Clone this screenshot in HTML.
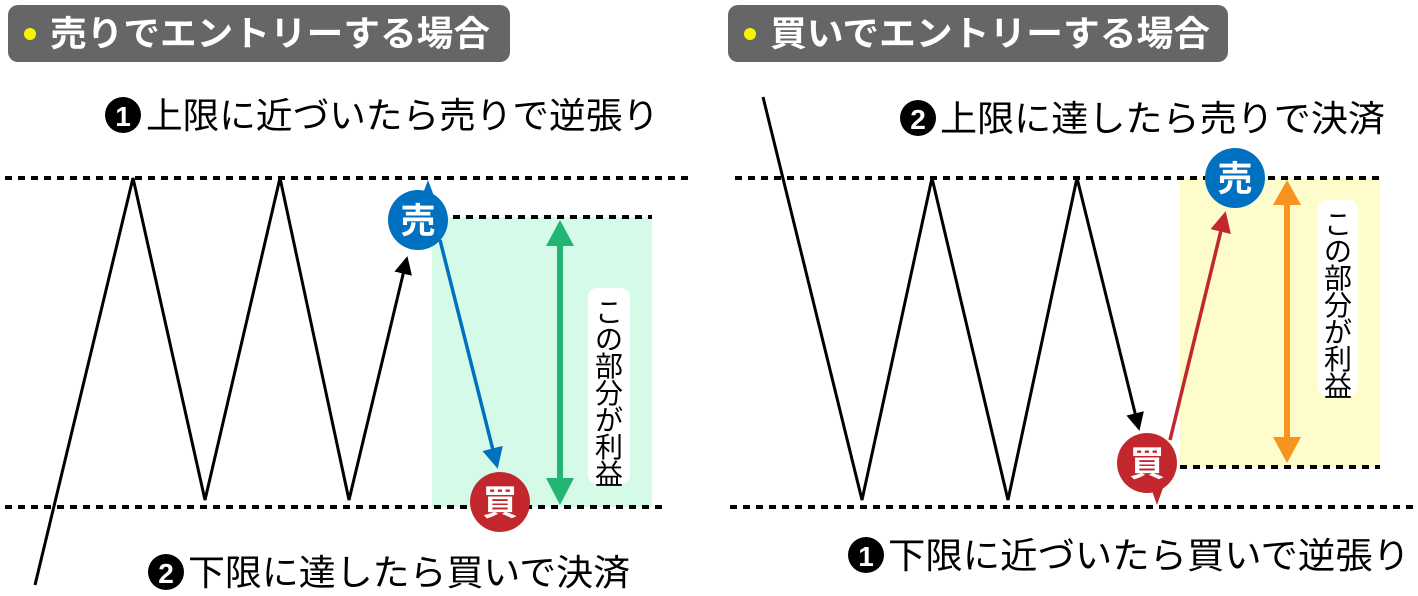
<!DOCTYPE html>
<html><head><meta charset="utf-8"><style>
body{margin:0;background:#fff;width:1418px;height:591px;overflow:hidden}
svg text{font-family:"Liberation Sans","Noto Sans CJK JP",sans-serif}
</style></head><body>
<svg width="1418" height="591" viewBox="0 0 1418 591" xmlns="http://www.w3.org/2000/svg">
<defs>
<marker id="ak" markerWidth="6" markerHeight="6" refX="4" refY="3" orient="auto" markerUnits="strokeWidth"><path d="M0,0L6,3L0,6z" fill="#000"/></marker>
<marker id="ab" markerWidth="6" markerHeight="6" refX="4" refY="3" orient="auto" markerUnits="strokeWidth"><path d="M0,0L6,3L0,6z" fill="#0070c0"/></marker>
<marker id="ar" markerWidth="6" markerHeight="6" refX="4" refY="3" orient="auto" markerUnits="strokeWidth"><path d="M0,0L6,3L0,6z" fill="#c1272d"/></marker>
</defs>
<rect x="8" y="5" width="502" height="57" rx="10" fill="#666"/>
<circle cx="30" cy="34" r="6" fill="#f5f500"/>
<text x="50" y="46" font-size="35" font-weight="bold" fill="#fff" textLength="440" lengthAdjust="spacingAndGlyphs">売りでエントリーする場合</text>
<rect x="728" y="5" width="500" height="57" rx="10" fill="#666"/>
<circle cx="750" cy="34" r="6" fill="#f5f500"/>
<text x="770" y="46" font-size="35" font-weight="bold" fill="#fff" textLength="440" lengthAdjust="spacingAndGlyphs">買いでエントリーする場合</text>

<rect x="432" y="217" width="220" height="290" fill="#d5fbe8"/>
<g stroke="#000" stroke-width="4" stroke-dasharray="7 6">
<line x1="5" y1="178" x2="690" y2="178"/>
<line x1="5" y1="507" x2="665" y2="507"/>
<line x1="440" y1="217" x2="652" y2="217"/>
<line x1="730" y1="507" x2="1418" y2="507"/>
</g>
<polyline points="35,585 133,178 205,500 280,178 349,500 406,262" fill="none" stroke="#000" stroke-width="3" marker-end="url(#ak)"/>
<line x1="440" y1="240" x2="496" y2="462" stroke="#0070c0" stroke-width="3.5" marker-end="url(#ab)"/>
<line x1="560" y1="240" x2="560" y2="485" stroke="#22b573" stroke-width="6"/>
<path d="M560,220L574,246L546,246z M560,505L574,478L546,478z" fill="#22b573"/>
<rect x="588" y="288" width="42" height="196" rx="9" fill="#fff"/>
<text x="609" y="322" font-size="28" fill="#000" text-anchor="middle"><tspan x="609" dy="0">こ</tspan><tspan x="609" dy="27">の</tspan><tspan x="609" dy="27">部</tspan><tspan x="609" dy="27">分</tspan><tspan x="609" dy="27">が</tspan><tspan x="609" dy="27">利</tspan><tspan x="609" dy="27">益</tspan></text>
<path d="M428,180L422,196L434,196z" fill="#0070c0"/>
<circle cx="418" cy="220" r="30" fill="#0070c0"/>
<text x="418" y="233" font-size="35" font-weight="bold" fill="#fff" text-anchor="middle">売</text>
<circle cx="500" cy="502" r="30" fill="#c1272d"/>
<text x="500" y="515" font-size="35" font-weight="bold" fill="#fff" text-anchor="middle">買</text>
<circle cx="123" cy="115" r="18" fill="#000"/><text x="123" y="126" font-size="28" font-weight="bold" fill="#fff" text-anchor="middle">1</text>
<text x="146" y="128" font-size="36" fill="#000" textLength="513" lengthAdjust="spacingAndGlyphs">上限に近づいたら売りで逆張り</text>
<circle cx="166" cy="572" r="18" fill="#000"/><text x="166" y="583" font-size="28" font-weight="bold" fill="#fff" text-anchor="middle">2</text>
<text x="188" y="585" font-size="36" fill="#000" textLength="442" lengthAdjust="spacingAndGlyphs">下限に達したら買いで決済</text>

<rect x="1180" y="178" width="200" height="289" fill="#fffccc"/>
<g stroke="#000" stroke-width="4" stroke-dasharray="7 6">
<line x1="735" y1="178" x2="1380" y2="178"/>
<line x1="1180" y1="467" x2="1380" y2="467"/>
</g>
<polyline points="763,97 862,500 932,178 1008,500 1077,178 1138,425" fill="none" stroke="#000" stroke-width="3" marker-end="url(#ak)"/>
<line x1="1170" y1="440" x2="1224" y2="218" stroke="#c1272d" stroke-width="3.5" marker-end="url(#ar)"/>
<line x1="1287" y1="200" x2="1287" y2="445" stroke="#f7931e" stroke-width="6"/>
<path d="M1287,180L1301,205L1273,205z M1287,463L1301,437L1273,437z" fill="#f7931e"/>
<rect x="1318" y="200" width="40" height="196" rx="9" fill="#fff"/>
<text x="1338" y="234" font-size="28" fill="#000" text-anchor="middle"><tspan x="1338" dy="0">こ</tspan><tspan x="1338" dy="27">の</tspan><tspan x="1338" dy="27">部</tspan><tspan x="1338" dy="27">分</tspan><tspan x="1338" dy="27">が</tspan><tspan x="1338" dy="27">利</tspan><tspan x="1338" dy="27">益</tspan></text>
<path d="M1157,505L1151,488L1163,488z" fill="#c1272d"/>
<circle cx="1147" cy="463" r="30" fill="#c1272d"/>
<text x="1147" y="476" font-size="35" font-weight="bold" fill="#fff" text-anchor="middle">買</text>
<circle cx="1235" cy="178" r="30" fill="#0070c0"/>
<text x="1235" y="191" font-size="35" font-weight="bold" fill="#fff" text-anchor="middle">売</text>
<circle cx="918" cy="118" r="18" fill="#000"/><text x="918" y="129" font-size="28" font-weight="bold" fill="#fff" text-anchor="middle">2</text>
<text x="940" y="131" font-size="36" fill="#000" textLength="445" lengthAdjust="spacingAndGlyphs">上限に達したら売りで決済</text>
<circle cx="866" cy="555" r="18" fill="#000"/><text x="866" y="566" font-size="28" font-weight="bold" fill="#fff" text-anchor="middle">1</text>
<text x="888" y="568" font-size="36" fill="#000" textLength="522" lengthAdjust="spacingAndGlyphs">下限に近づいたら買いで逆張り</text>
</svg>
</body></html>
